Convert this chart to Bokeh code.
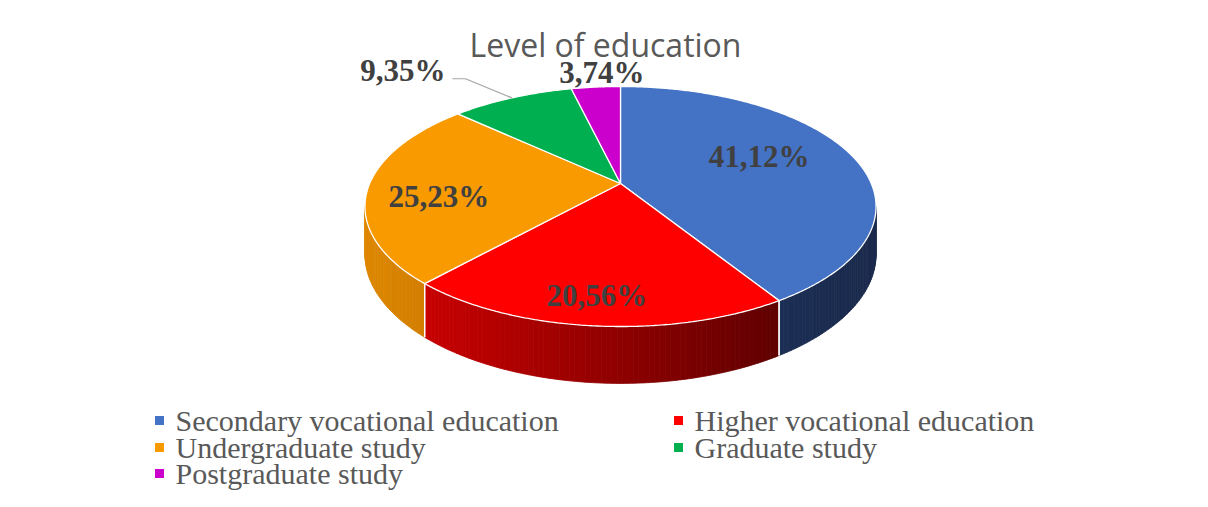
import numpy as np
from bokeh.plotting import figure
from bokeh.models import Range1d, ColumnDataSource
from bokeh.core.properties import value
from bokeh.embed import file_html
from bokeh.resources import INLINE

# ---------------- data ----------------
title_text = "Level of education"
categories = ["Secondary vocational education", "Higher vocational education",
              "Undergraduate study", "Graduate study", "Postgraduate study"]
shares = [41.12, 20.56, 25.23, 9.35, 3.74]
share_labels = ["41,12%", "20,56%", "25,23%", "9,35%", "3,74%"]
top_colors = ["#4472C4", "#FF0000", "#F99A00", "#00B050", "#CC00CC"]
side_left = ["#1c2e54", "#c80000", "#de8800", "#00873d", "#9c009c"]
side_right = ["#1a2a4c", "#600000", "#d27e00", "#00873d", "#9c009c"]

# ---------------- geometry (picture pixel space) ----------------
CX, CY = 620.0, 183.0
A, B, K, H = 250.8, 115.6, 0.1917, 46.0


def proj(theta_deg, r=1.0, drop=0.0):
    t = np.radians(theta_deg)
    u = r * np.cos(t)
    v = r * np.sin(t)
    w = 1.0 + K * v
    return CX + A * u / w, CY - B * v / w + drop * H / w


def hex2rgb(h):
    h = h.lstrip("#")
    return np.array([int(h[i:i + 2], 16) for i in (0, 2, 4)], dtype=float)


def lerp_color(c0, c1, t):
    a, b = hex2rgb(c0), hex2rgb(c1)
    c = a + (b - a) * min(max(t, 0.0), 1.0)
    return "#%02x%02x%02x" % tuple(int(round(x)) for x in c)


fr = np.array(shares) / np.sum(shares)
ends = 90.0 - 360.0 * np.cumsum(fr)
starts = np.concatenate([[90.0], ends[:-1]])
mids = (starts + ends) / 2.0

W, Hh = 1192, 491
p = figure(width=W, height=Hh, x_range=Range1d(0, W), y_range=Range1d(Hh, 0),
           output_backend="svg", toolbar_location=None,
           x_axis_location=None, y_axis_location=None, min_border=0)
p.grid.visible = False
p.outline_line_color = None
p.background_fill_color = "white"
p.border_fill_color = "white"

# ---------------- side walls ----------------
sil = np.degrees(np.arcsin(K))
lo_lim, hi_lim = -180.0 + sil, -sil
sx_, sy_, sc_ = [], [], []
edge_x, edge_y = [], []
for i in range(len(shares)):
    lo = max(ends[i], lo_lim)
    hi = min(starts[i], hi_lim)
    if lo >= hi:
        continue
    n = max(int(np.ceil(hi - lo)), 1)
    angs = np.linspace(lo, hi, n + 1)
    xL = proj(lo)[0]
    xR = proj(hi)[0]
    for a0, a1 in zip(angs[:-1], angs[1:]):
        tx0, ty0 = proj(a0)
        tx1, ty1 = proj(a1)
        bx0, by0 = proj(a0, drop=1.0)
        bx1, by1 = proj(a1, drop=1.0)
        sx_.append([tx0, tx1, bx1, bx0])
        sy_.append([ty0, ty1, by1, by0])
        xm = (tx0 + tx1) / 2.0
        sc_.append(lerp_color(side_left[i], side_right[i], (xm - xL) / (xR - xL)))
for b in list(starts) + list(ends):
    if lo_lim < b < hi_lim:
        x0, y0 = proj(b)
        x1, y1 = proj(b, drop=1.0)
        edge_x.append([x0, x1])
        edge_y.append([y0, y1])

p.patches(xs="xs", ys="ys", fill_color="c", line_color="c", line_width=0.8,
          source=ColumnDataSource(dict(xs=sx_, ys=sy_, c=sc_)))
p.multi_line(xs=edge_x, ys=edge_y, line_color="white", line_width=1.3)

# ---------------- top faces ----------------
txs, tys = [], []
for i in range(len(shares)):
    n = max(int(np.ceil((starts[i] - ends[i]) * 2)), 2)
    angs = np.linspace(starts[i], ends[i], n + 1)
    xs, ys = proj(angs)
    txs.append([CX] + list(xs))
    tys.append([CY] + list(ys))
p.patches(xs="xs", ys="ys", fill_color="c", line_color="white", line_width=1.3,
          source=ColumnDataSource(dict(xs=txs, ys=tys, c=top_colors)))

# ---------------- data labels ----------------
label_font = value("Liberation Serif")
inside_r = {0: (0.62, -6, -8), 1: (0.827, -2, -1), 2: (0.72, 0, 9)}
lx, ly, lt = [], [], []
for i, (r, dx, dy) in inside_r.items():
    x, y = proj(mids[i], r=r)
    lx.append(x + dx)
    ly.append(y + dy)
    lt.append(share_labels[i])
p.text(x=lx, y=ly, text=lt, text_font=label_font, text_font_style="bold",
       text_font_size="31px", text_color="#404040", text_align="center",
       text_baseline="middle")

# magenta label just above its edge
mx, my = proj(mids[4])
p.text(x=[mx + 6], y=[my - 15], text=[share_labels[4]], text_font=label_font,
       text_font_style="bold", text_font_size="31px", text_color="#404040",
       text_align="center", text_baseline="middle")

# green label with leader line
gx, gy = proj(mids[3])
p.line(x=[gx, gx - 46.5, gx - 59.5], y=[gy, gy - 19.1, gy - 19.1],
       line_color="#a6a6a6", line_width=1.2)
p.text(x=[gx - 66.5], y=[gy - 27.4], text=[share_labels[3]], text_font=label_font,
       text_font_style="bold", text_font_size="31px", text_color="#404040",
       text_align="right", text_baseline="middle")

# ---------------- title ----------------
p.text(x=[605], y=[44], text=[title_text], text_font=value("Open Sans"),
       text_font_size="32px", text_color="#595959", text_align="center",
       text_baseline="middle")

# ---------------- legend ----------------
col_x = [159, 678]
row_mid = [420, 447, 473]
qx, qy, tx, ty = [], [], [], []
for i in range(len(categories)):
    cx = col_x[i % 2]
    rm = row_mid[i // 2]
    qx.append(cx)
    qy.append(rm)
    tx.append(cx + 16)
    ty.append(rm)
p.scatter(x=qx, y=qy, marker="square", size=9, fill_color=top_colors, line_color=None)
p.text(x=tx, y=ty, text=categories, text_font=label_font, text_font_size="30px",
       text_color="#595959", text_align="left", text_baseline="middle")

open("out.html", "w").write(file_html(p, INLINE))
